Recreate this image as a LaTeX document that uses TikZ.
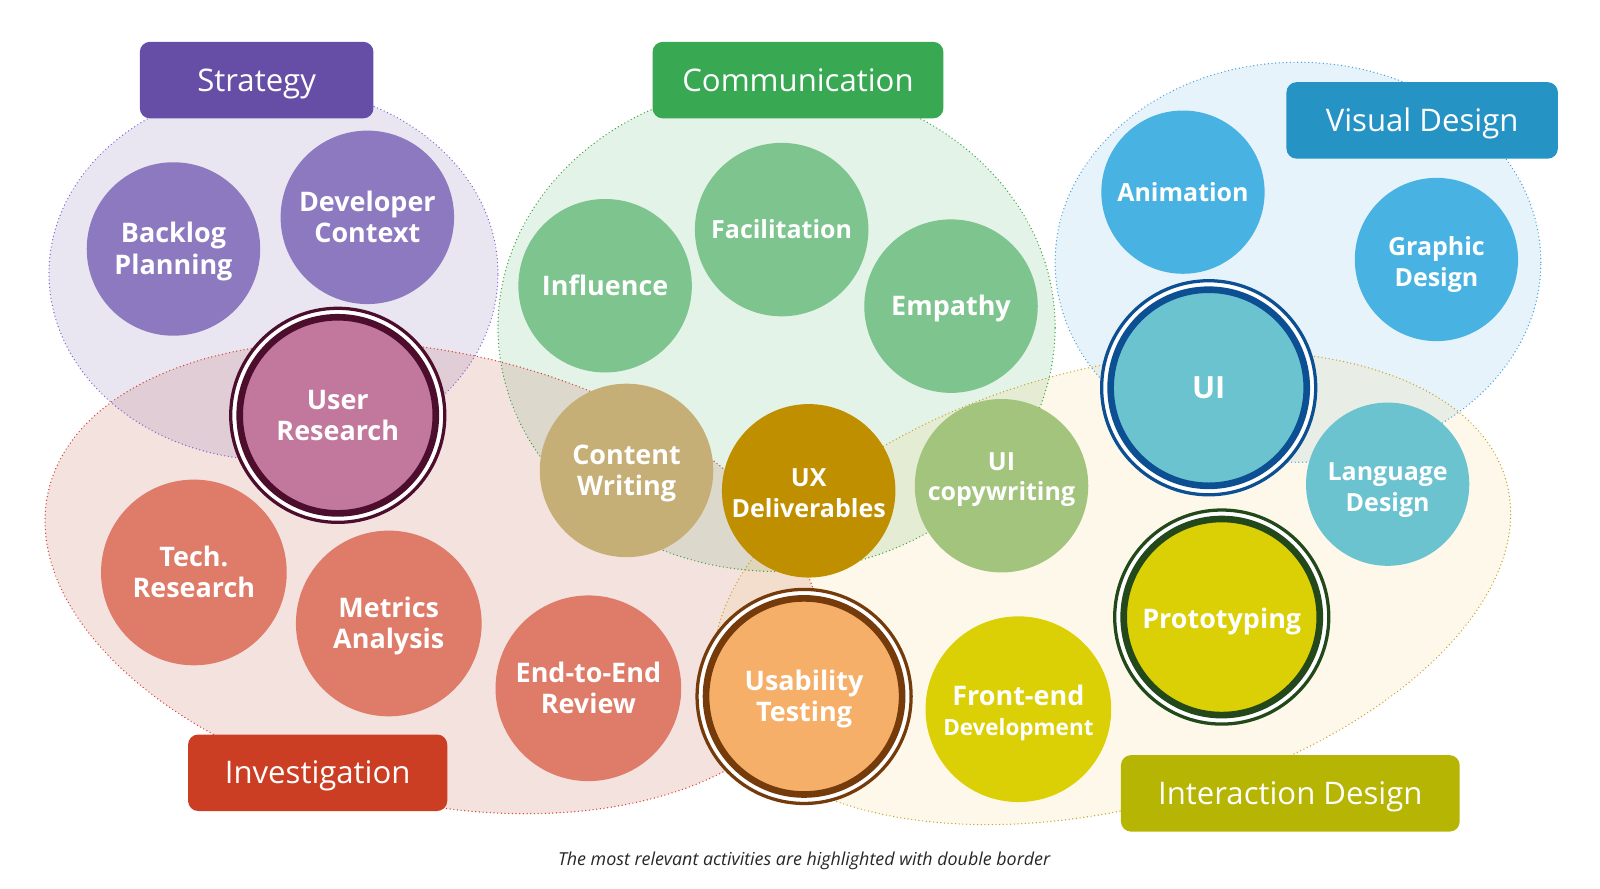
\documentclass[tikz,border=0pt]{standalone}
\usepackage{fontspec}
\setmainfont{Open Sans}
\definecolor{stratL}{HTML}{664EA6}
\definecolor{stratC}{HTML}{8D79C0}
\definecolor{stratD}{HTML}{7D6AD0}
\definecolor{urF}{HTML}{C2779C}
\definecolor{urB}{HTML}{4D0E2E}
\definecolor{comL}{HTML}{38A853}
\definecolor{comC}{HTML}{7DC48E}
\definecolor{comD}{HTML}{3DA33D}
\definecolor{cwC}{HTML}{C5AF77}
\definecolor{uxC}{HTML}{BF8F00}
\definecolor{ucC}{HTML}{A3C47D}
\definecolor{invL}{HTML}{CB3E23}
\definecolor{invC}{HTML}{DE7B69}
\definecolor{invD}{HTML}{D9412B}
\definecolor{invE}{RGB}{190,90,75}
\definecolor{utF}{HTML}{F5AF69}
\definecolor{utB}{HTML}{763B0A}
\definecolor{feC}{HTML}{DBCF06}
\definecolor{prB}{HTML}{23481A}
\definecolor{intL}{HTML}{B6B503}
\definecolor{intE}{RGB}{240,190,40}
\definecolor{intD}{HTML}{C9A227}
\definecolor{visL}{HTML}{2693C5}
\definecolor{visC}{HTML}{48B3E2}
\definecolor{visE}{HTML}{3AA0DC}
\definecolor{visD}{HTML}{4A9FDA}
\definecolor{uiF}{HTML}{6AC3CF}
\definecolor{uiB}{HTML}{0C4F92}
\begin{document}
\begin{tikzpicture}[x=1pt,y=-1pt,
  grpline/.style={line width=1.4pt, dash pattern=on 0pt off 3.6pt, line cap=round},
  grplabel/.style={rectangle, rounded corners=10pt, inner sep=0pt, text=white,
    font=\fontsize{30.5}{36}\selectfont, minimum height=75pt, text height=22pt, text depth=0pt},
  bub/.style={circle, inner sep=0pt, text=white, align=center},
  fbig/.style={font=\bfseries\fontsize{26.4}{31}\selectfont},
  fsmall/.style={font=\bfseries\fontsize{24.5}{30}\selectfont},
  oneB/.style={fbig, text height=18.85pt, text depth=0pt},
  twoB/.style={fbig, text height=49.85pt, text depth=0pt},
  oneS/.style={fsmall, text height=17.5pt, text depth=0pt},
  twoS/.style={fsmall, text height=47.5pt, text depth=0pt},
  smallbub/.style={bub, minimum size=160pt},
  midbub/.style={bub, minimum size=170pt},
  bigbub/.style={bub, minimum size=182pt},
  ring/.style={circle, inner sep=0pt, fill=white, line width=3.2pt, minimum size=209.8pt},
  hlbub/.style={bub, line width=6.5pt, minimum size=192.2pt}]
\useasboundingbox (0,0) rectangle (1568,871);

% group areas
\fill[stratL, fill opacity=0.14] (268,268) ellipse [x radius=220pt, y radius=183pt];
\fill[comL, fill opacity=0.14] (761,321) ellipse [x radius=273pt, y radius=239pt];
\fill[visE, fill opacity=0.12] (1272,257) ellipse [x radius=238pt, y radius=196pt];
\fill[invE, fill opacity=0.175, rotate around={-12.5:(424,566)}] (424,566) ellipse [x radius=386pt, y radius=221pt];
\fill[intE, fill opacity=0.10, rotate around={15:(1090,576)}] (1090,576) ellipse [x radius=400pt, y radius=215pt];

\draw[grpline, stratD] (268,268) ellipse [x radius=220pt, y radius=183pt];
\draw[grpline, comD] (761,321) ellipse [x radius=273pt, y radius=239pt];
\draw[grpline, visD] (1272,257) ellipse [x radius=238pt, y radius=196pt];
\draw[grpline, invD, rotate around={-12.5:(424,566)}] (424,566) ellipse [x radius=386pt, y radius=221pt];
\draw[grpline, intD, rotate around={15:(1090,576)}] (1090,576) ellipse [x radius=400pt, y radius=215pt];

% group labels
\node[grplabel, fill=stratL, minimum width=229pt] (lstrat) at (251.5,78.5) {Strategy};
\node[grplabel, fill=comL, minimum width=285pt] (lcom) at (782,78.5) {Communication};
\node[grplabel, fill=visL, minimum width=266pt] (lvis) at (1393.7,118) {Visual Design};
\node[grplabel, fill=invL, minimum width=254pt] (linv) at (311.3,757.3) {Investigation};
\node[grplabel, fill=intL, minimum width=332pt] (lint) at (1264.5,777.5) {Interaction Design};

% strategy
\node[midbub, twoB, fill=stratC] (backlog) at (170,244) {Backlog\\Planning};
\node[midbub, twoB, fill=stratC] (devctx) at (360,213) {Developer\\Context};
\node[ring, draw=urB] (userres-ring) at (331,407) {};
\node[hlbub, twoB, fill=urF, draw=urB] (userres) at (331,407) {User\\Research};

% communication
\node[midbub, oneB, fill=comC] (influence) at (593,280) {Influence};
\node[midbub, oneS, fill=comC] (facil) at (766,225) {Facilitation};
\node[midbub, oneB, fill=comC] (empathy) at (932,300) {Empathy};
\node[midbub, twoB, fill=cwC] (content) at (614,461) {Content\\Writing};
\node[midbub, twoS, text height=51.5pt, fill=uxC] (uxdel) at (792.5,481) {UX\\Deliverables};
\node[midbub, twoS, text depth=18pt, fill=ucC] (uicopy) at (981.5,476) {UI\\copywriting};

% investigation
\node[bigbub, twoB, fill=invC] (techres) at (190,561) {Tech.\\Research};
\node[bigbub, twoB, fill=invC] (metrics) at (381,611) {Metrics\\Analysis};
\node[bigbub, twoB, fill=invC] (e2e) at (576.6,674.5) {End-to-End\\Review};
\node[ring, draw=utB] (usab-ring) at (788,682.5) {};
\node[hlbub, twoB, fill=utF, draw=utB] (usab) at (788,682.5) {Usability\\Testing};

% interaction
\node[bigbub, fbig, text height=50.85pt, text depth=0pt, fill=feC] (frontend) at (998,695) {Front-end\\[-2pt]{\fontsize{22}{26}\selectfont Development}};
\node[ring, draw=prB] (proto-ring) at (1197.3,604.7) {};
\node[hlbub, fbig, text height=22.85pt, text depth=0pt, fill=feC, draw=prB] (proto) at (1197.3,604.7) {Prototyping};

% visual design
\node[smallbub, oneS, fill=visC] (anim) at (1159.3,188.3) {Animation};
\node[smallbub, twoS, text height=52.5pt, fill=visC] (graphic) at (1407.7,254.3) {Graphic\\Design};
\node[ring, draw=uiB] (ui-ring) at (1184.5,380) {};
\node[hlbub, font=\bfseries\fontsize{30}{36}\selectfont, text height=21.4pt, text depth=0pt, fill=uiF, draw=uiB] (ui) at (1184.5,380) {UI};
\node[smallbub, twoS, text height=53.5pt, fill=uiF] (lang) at (1359.9,474.5) {Language\\Design};

% caption
\node[font=\itshape\fontsize{17.5}{21}\selectfont, text=black!85] (caption) at (788,844) {The most relevant activities are highlighted with double border};
\end{tikzpicture}
\end{document}
